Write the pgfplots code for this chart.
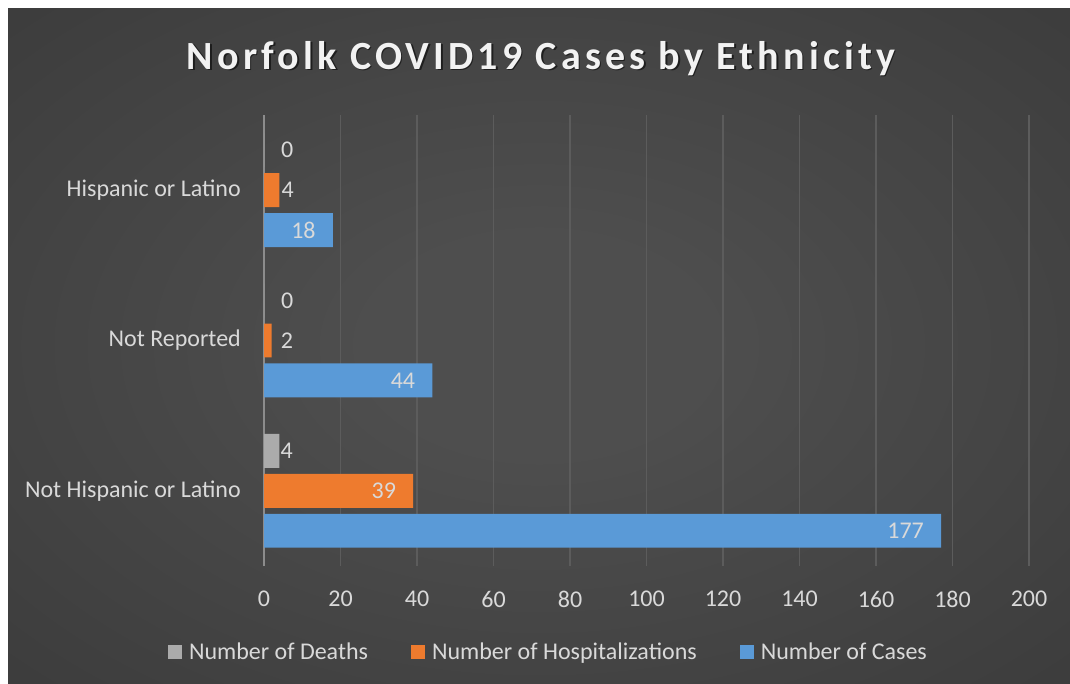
\documentclass[border=0pt]{standalone}
\usepackage{pgfplots}
\pgfplotsset{compat=1.18}
\usepackage{pgfplotstable}
\usepackage{fontspec}
\setmainfont{Carlito}
\newfontfamily\titlefont[LetterSpace=10.5]{Carlito}

\definecolor{txt}{HTML}{D9D9D9}
\definecolor{gridc}{HTML}{5C5C5C}
\definecolor{axisc}{HTML}{8C8C8C}
\definecolor{bgin}{HTML}{4E4E4E}
\definecolor{bgout}{HTML}{252525}
\definecolor{bluec}{HTML}{5A9AD7}
\definecolor{orgc}{HTML}{EE7B2E}
\definecolor{grac}{HTML}{ABABAB}

\pgfdeclareradialshading{bgshade}{\pgfpoint{0bp}{0bp}}{color(0bp)=(bgin); color(8bp)=(bgin); color(72bp)=(bgout)}

% y: 0 = Not Hispanic or Latino, 1 = Not Reported, 2 = Hispanic or Latino
% ins = 1: label inside the bar end, 0: label outside
\pgfplotstableread{
y x ins dx
0 4 0 1
1 0 0 17
2 0 0 17
}\deaths
\pgfplotstableread{
y x ins dx
0 39 1 -17
1 2 0 9
2 4 0 2
}\hosp
\pgfplotstableread{
y x ins dx
0 177 1 -17
1 44 1 -17
2 18 1 -17
}\cases

\newcommand{\lblfont}{\fontsize{24}{28}\selectfont}

\begin{document}
\begin{tikzpicture}
\useasboundingbox (0,0) rectangle (1070pt,-683pt);
\fill[white] (0,0) rectangle (1070pt,-683pt);
\shade[shading=bgshade] (8pt,-8pt) rectangle (1070pt,-683pt);

\node[anchor=base, text=black, opacity=0.55] at (542.5pt,-70.5pt) {\titlefont\bfseries\fontsize{40}{46}\selectfont Norfolk COVID19 Cases by Ethnicity};
\node[anchor=base, text=white!95!black] at (541pt,-69pt) {\titlefont\bfseries\fontsize{40}{46}\selectfont Norfolk COVID19 Cases by Ethnicity};

\begin{axis}[
    at={(264pt,-566pt)}, anchor=south west,
    scale only axis, width=765pt, height=451pt,
    xbar, bar width=0.2257,
    xmin=0, xmax=200, ymin=-0.5, ymax=2.5,
    xtick={0,20,...,200}, ytick={0,1,2},
    yticklabels={Not Hispanic or Latino, Not Reported, Hispanic or Latino},
    xmajorgrids, major grid style={gridc, line width=1.3pt},
    axis x line*=bottom, axis y line*=left,
    x axis line style={draw=none},
    y axis line style={-, axisc, line width=1.6pt},
    major tick length=0pt,
    /pgf/number format/assume math mode=true,
    tick label style={font=\lblfont, text=txt, inner sep=0pt},
    xticklabel style={anchor=north, yshift=-25pt},
    yticklabel style={anchor=east, xshift=-23pt},
    legend columns=3,
    legend style={at={(0.3705,-0.1907)}, anchor=center, draw=none, fill=none,
        font=\lblfont, text=txt, nodes={inner sep=0pt},
        /tikz/every odd column/.append style={column sep=7pt},
        /tikz/every even column/.append style={column sep=43pt}},
    legend image code/.code={\fill[#1] (0pt,-7pt) rectangle (14pt,7pt);},
    nodes near coords,
    visualization depends on={\thisrow{ins} \as \ins},
    visualization depends on={\thisrow{dx} \as \dx},
    lbl/.style={every node near coord/.append style={
        anchor={\ifdim\ins pt>0.5pt east\else west\fi},
        xshift=\dx pt, inner sep=0pt, text=txt, font=\lblfont}},
]
\addplot[draw=none, fill=grac, bar shift=0.2655, lbl]
    table[x=x, y=y] {\deaths};
\addplot[draw=none, fill=orgc, bar shift=0, lbl]
    table[x=x, y=y] {\hosp};
\addplot[draw=none, fill=bluec, bar shift=-0.2655, lbl]
    table[x=x, y=y] {\cases};
\legend{Number of Deaths, Number of Hospitalizations, Number of Cases}
\end{axis}
\end{tikzpicture}
\end{document}
